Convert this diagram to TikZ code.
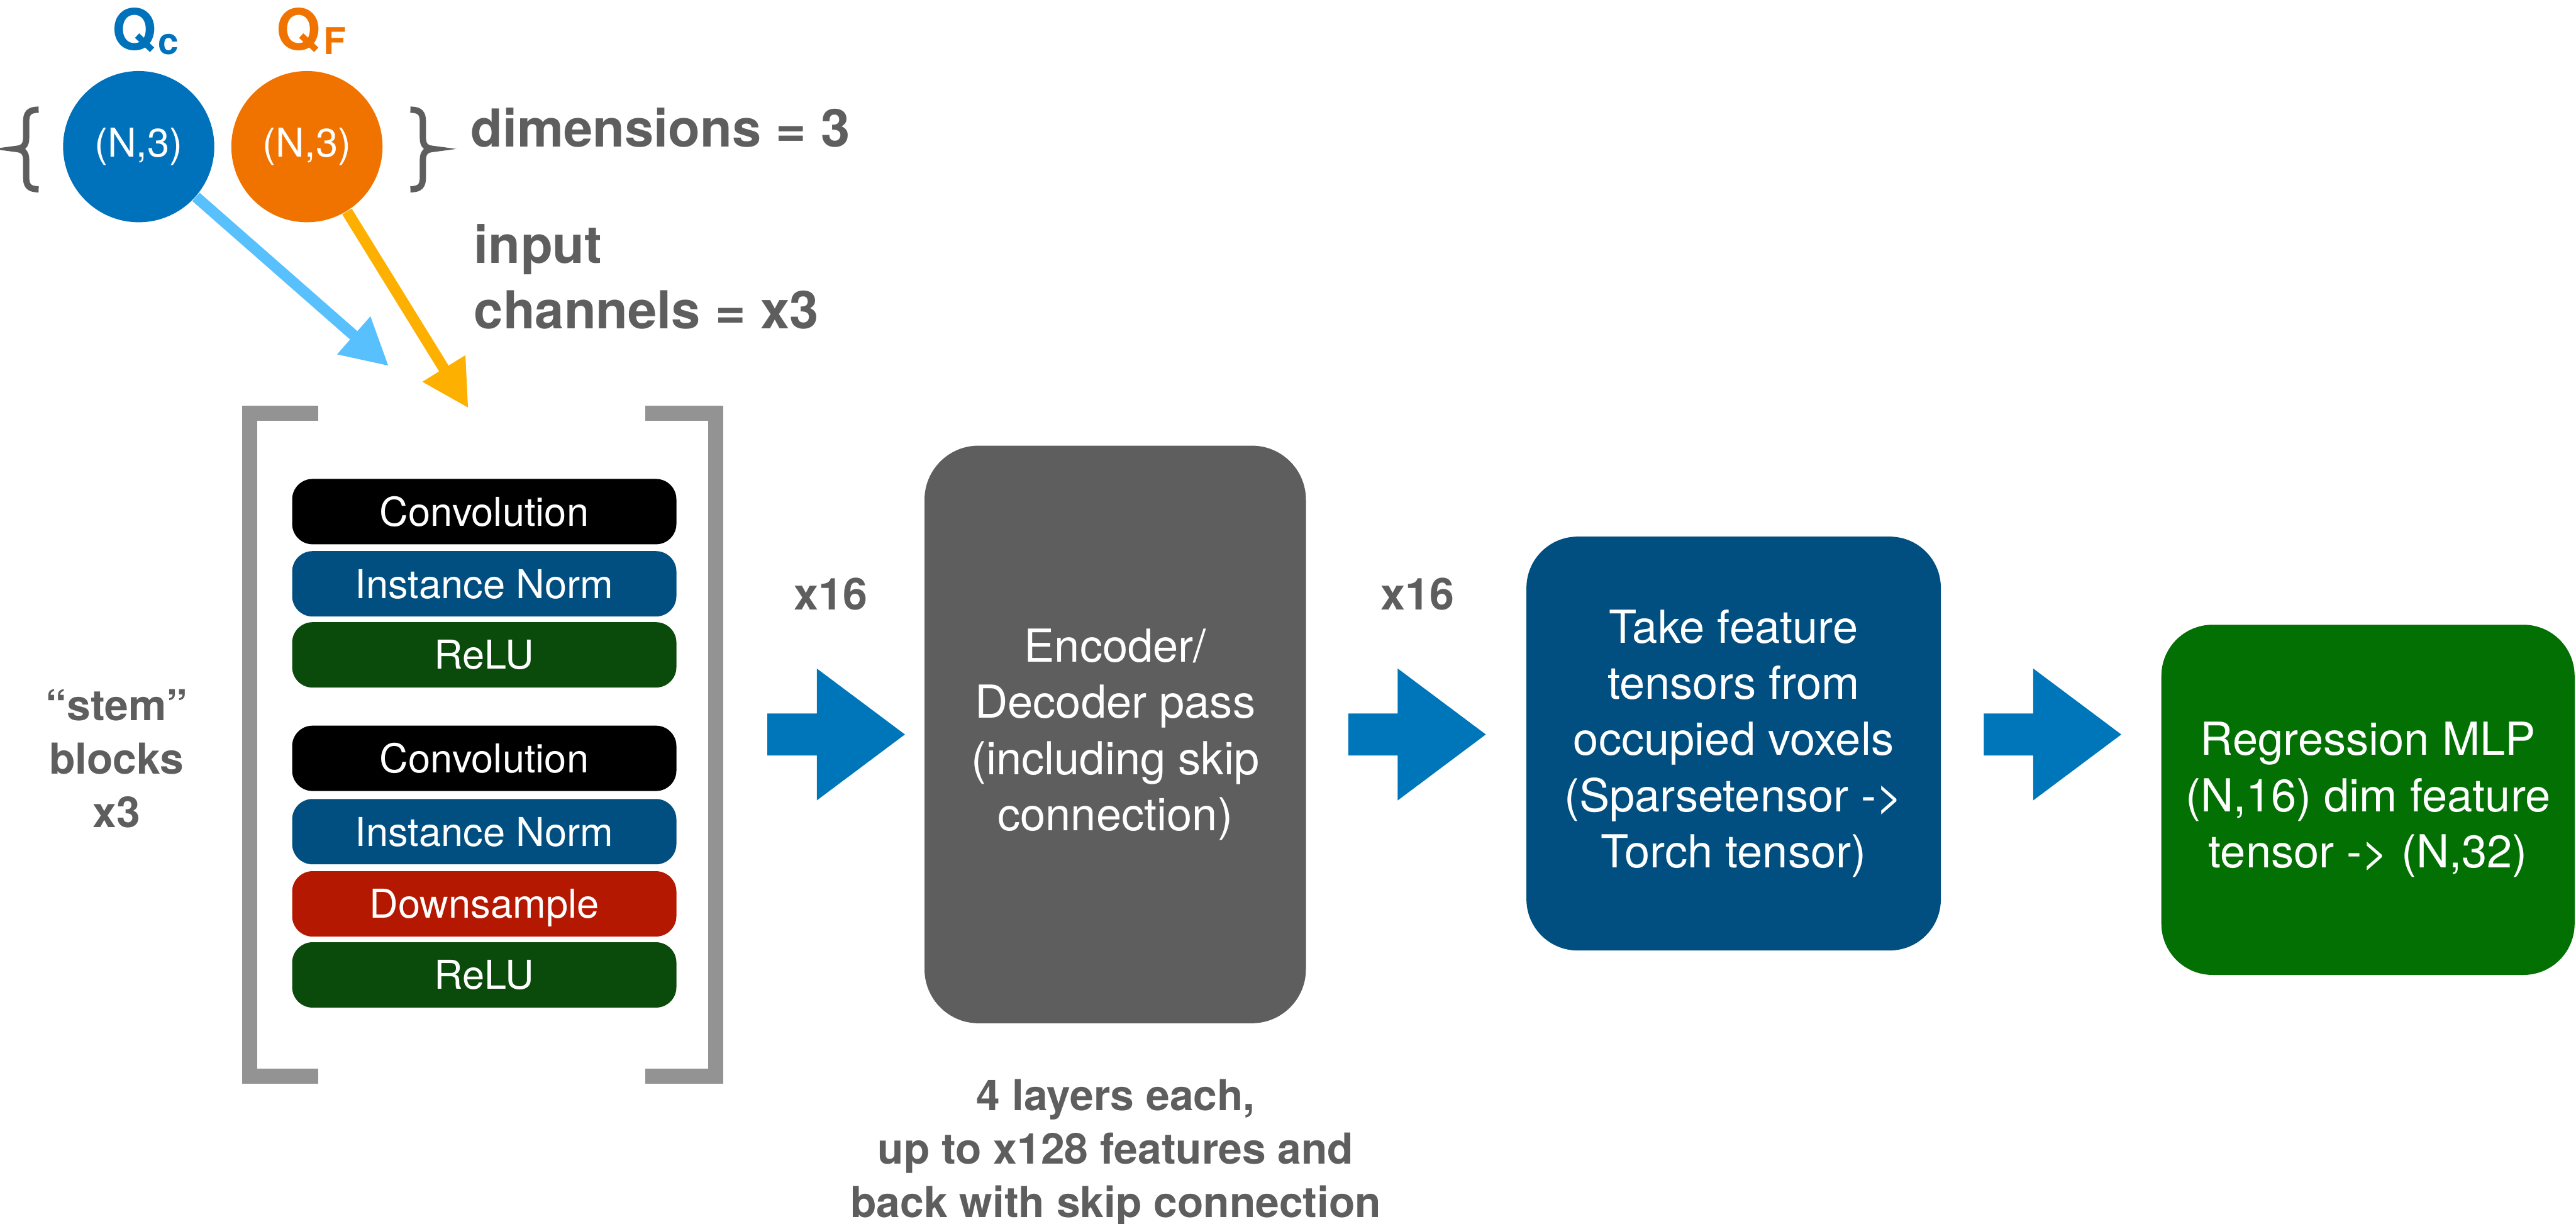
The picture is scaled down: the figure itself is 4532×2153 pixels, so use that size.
\documentclass[tikz,border=0pt]{standalone}
\usepackage{fontspec}
\setmainfont{TeX Gyre Heros}
\usetikzlibrary{arrows.meta}
\definecolor{txtgray}{RGB}{94,94,94}
\definecolor{bracketgray}{RGB}{147,147,147}
\definecolor{encgray}{RGB}{94,94,94}
\definecolor{inblue}{RGB}{0,79,128}
\definecolor{arrowblue}{RGB}{0,118,186}
\definecolor{qcblue}{RGB}{0,114,187}
\definecolor{qforange}{RGB}{240,115,0}
\definecolor{lightarrow}{RGB}{88,192,252}
\definecolor{amberarrow}{RGB}{253,176,0}
\definecolor{relugreen}{RGB}{10,74,10}
\definecolor{downred}{RGB}{181,24,0}
\definecolor{reggreen}{RGB}{3,112,3}
\begin{document}
\begin{tikzpicture}[x=0.2pt,y=-0.2pt,
  layerbox/.style={rectangle, rounded corners=7.2pt, minimum width=135.2pt, minimum height=23pt,
    inner sep=0pt, text=white, text height=10.1pt, text depth=0pt, font=\fontsize{14}{16}\selectfont},
  bigbox/.style={rectangle, inner sep=0pt, text=white, align=center, font=\fontsize{16}{19.8}\selectfont},
  qcircle/.style={circle, minimum size=53.2pt, inner sep=0pt, text=white, font=\fontsize{14}{16}\selectfont},
  biglabel/.style={inner sep=0pt, text=txtgray, font=\bfseries\fontsize{18.4}{23}\selectfont},
  midlabel/.style={inner sep=0pt, text=txtgray, align=center, font=\bfseries\fontsize{15}{18.8}\selectfont},
  xlabel/.style={inner sep=0pt, text=txtgray, font=\bfseries\fontsize{15.5}{18}\selectfont},
  inarrow/.style={line width=3.9pt, -{Triangle[length=16.4pt,width=16.6pt]}},
  bracketline/.style={draw=bracketgray, line width=5.2pt},
  braceline/.style={draw=txtgray, line width=2.2pt},
  blockarrow/.pic={\fill[arrowblue] (0,-37) -- (87,-37) -- (87,-116) -- (242,0) -- (87,116) -- (87,37) -- (0,37) -- cycle;}
]
\useasboundingbox (0,0) rectangle (4532,2153);

% inputs
\node[qcircle, fill=qcblue] (qc) at (244,258) {(N,3)};
\node[qcircle, fill=qforange] (qf) at (540,258) {(N,3)};
\node[anchor=base west, inner sep=0pt, text=qcblue, font=\bfseries\fontsize{20}{24}\selectfont] (qclab) at (197,88)
  {Q\kern0.6pt\raisebox{-1.6pt}{\fontsize{13}{15}\selectfont c}};
\node[anchor=base west, inner sep=0pt, text=qforange, font=\bfseries\fontsize{20}{24}\selectfont] (qflab) at (485,88)
  {Q\kern1.2pt\raisebox{-1.6pt}{\fontsize{13}{15}\selectfont F}};

% braces
\draw[braceline] (68,193) .. controls (50,193) and (46,200) .. (46,215) -- (46,243)
  .. controls (46,256) and (40,261) .. (28,262) .. controls (40,263) and (46,268) .. (46,281)
  -- (46,311) .. controls (46,326) and (50,333) .. (68,333);
\draw[braceline] (722,193) .. controls (740,193) and (744,200) .. (744,215) -- (744,243)
  .. controls (744,256) and (750,261) .. (762,262) .. controls (750,263) and (744,268) .. (744,281)
  -- (744,311) .. controls (744,326) and (740,333) .. (722,333);

\node[biglabel, anchor=base west] (dimlab) at (827,258) {dimensions = 3};
\node[biglabel, anchor=west, align=left] (chanlab) at (833,487) {input\\channels = x3};

% arrows into stem
\coordinate (tipc) at (684,644);
\coordinate (tipf) at (824,718);
\draw[inarrow, lightarrow] (qc) -- (tipc);
\draw[inarrow, amberarrow] (qf) -- (tipf);

% brackets
\draw[bracketline] (560,727) -- (439,727) -- (439,1893) -- (560,1893);
\draw[bracketline] (1135,727) -- (1259,727) -- (1259,1893) -- (1135,1893);

% stem layers
\node[layerbox, fill=black] (conv1) at (852,900) {Convolution};
\node[layerbox, fill=inblue] (in1) at (852,1027) {Instance Norm};
\node[layerbox, fill=relugreen] (relu1) at (852,1152) {ReLU};
\node[layerbox, fill=black] (conv2) at (852,1334) {Convolution};
\node[layerbox, fill=inblue] (in2) at (852,1463) {Instance Norm};
\node[layerbox, fill=downred] (down) at (852,1590) {Downsample};
\node[layerbox, fill=relugreen] (relu2) at (852,1715) {ReLU};

\node[midlabel] (stemlab) at (205,1334) {“stem”\\blocks\\x3};

% main pipeline
\pic at (1350,1292) {blockarrow};
\node[xlabel, anchor=base] (x16a) at (1462,1073) {x16};
\node[bigbox, fill=encgray, rounded corners=19pt, minimum width=134.2pt, minimum height=203.2pt] (enc) at (1962,1292)
  {Encoder/\\Decoder pass\\(including skip\\connection)};
\node[midlabel] (enclab) at (1963,2028) {4 layers each,\\up to x128 features and\\back with skip connection};

\pic at (2372,1292) {blockarrow};
\node[xlabel, anchor=base] (x16b) at (2494,1073) {x16};
\node[bigbox, fill=inblue, rounded corners=18pt, minimum width=145.8pt, minimum height=145.6pt] (take) at (3050,1308)
  {Take feature\\tensors from\\occupied voxels\\(Sparsetensor ->\\Torch tensor)};

\pic at (3490,1292) {blockarrow};
\node[bigbox, fill=reggreen, rounded corners=18pt, minimum width=145.4pt, minimum height=123.2pt] (reg) at (4166,1407)
  {Regression MLP\\(N,16) dim feature\\tensor -> (N,32)};
\end{tikzpicture}
\end{document}
